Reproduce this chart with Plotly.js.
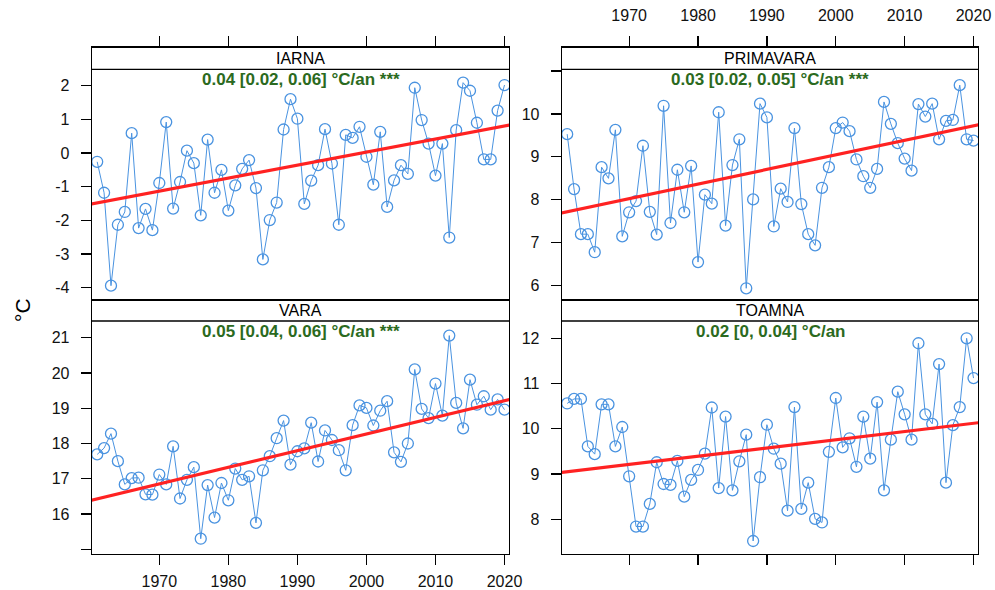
<!DOCTYPE html>
<html>
<head>
<meta charset="utf-8">
<script src="https://cdn.plot.ly/plotly-3.0.1.min.js"></script>
<style>html,body{margin:0;padding:0;background:#fff;}#chart{width:995px;height:590px;}</style>
</head>
<body>
<div id="chart"></div>
<script>
var years = [1961,1962,1963,1964,1965,1966,1967,1968,1969,1970,1971,1972,1973,1974,1975,1976,1977,1978,1979,1980,
1981,1982,1983,1984,1985,1986,1987,1988,1989,1990,1991,1992,1993,1994,1995,1996,1997,1998,1999,2000,
2001,2002,2003,2004,2005,2006,2007,2008,2009,2010,2011,2012,2013,2014,2015,2016,2017,2018,2019,2020];

var iarna = [-0.26,-1.18,-3.94,-2.13,-1.75,0.59,-2.23,-1.66,-2.29,-0.89,0.92,-1.65,-0.86,0.07,-0.30,-1.85,0.40,-1.18,-0.50,-1.71,
-0.96,-0.47,-0.21,-1.04,-3.16,-1.99,-1.47,0.70,1.60,1.02,-1.51,-0.82,-0.36,0.71,-0.31,-2.13,0.54,0.45,0.78,-0.11,
-0.94,0.63,-1.60,-0.81,-0.36,-0.62,1.94,0.98,0.28,-0.67,0.28,-2.51,0.68,2.09,1.85,0.90,-0.19,-0.19,1.26,2.02];

var primavara = [9.53,8.25,7.20,7.20,6.78,8.76,8.50,9.63,7.15,7.71,7.97,9.26,7.72,7.19,10.19,7.46,8.70,7.71,8.79,6.55,
8.12,7.91,10.04,7.40,8.81,9.41,5.94,8.01,10.24,9.92,7.38,8.26,7.95,9.67,7.90,7.20,6.94,8.28,8.76,9.67,
9.80,9.60,8.94,8.55,8.28,8.72,10.28,9.77,9.32,8.96,8.68,10.23,9.94,10.24,9.41,9.84,9.86,10.67,9.41,9.38];

var vara = [17.69,17.87,18.28,17.50,16.84,17.02,17.03,16.56,16.55,17.12,16.84,17.92,16.44,16.97,17.33,15.30,16.82,15.90,16.88,16.39,
17.29,16.97,17.07,15.75,17.24,17.64,18.15,18.65,17.40,17.78,17.86,18.59,17.49,18.37,18.10,17.81,17.24,18.52,19.08,19.01,
18.51,18.93,19.20,17.75,17.48,18.00,20.10,18.98,18.72,19.70,18.79,21.06,19.15,18.43,19.81,19.10,19.34,18.96,19.25,18.96];

var toamna = [10.56,10.66,10.66,9.61,9.44,10.54,10.54,9.61,10.04,8.95,7.84,7.84,8.34,9.26,8.78,8.76,9.29,8.50,8.87,9.09,
9.45,10.47,8.69,10.27,8.64,9.28,9.87,7.52,8.93,10.09,9.56,9.23,8.19,10.48,8.23,8.81,8.01,7.93,9.49,10.68,
9.59,9.79,9.16,10.27,9.34,10.59,8.64,9.76,10.82,10.32,9.76,11.89,10.32,10.11,11.43,8.81,10.08,10.48,12.00,11.12];

var panelNames = ["IARNA", "PRIMAVARA", "VARA", "TOAMNA"];
var trendLabels = ["0.04 [0.02, 0.06] °C/an ***", "0.03 [0.02, 0.05] °C/an ***", "0.05 [0.04, 0.06] °C/an ***", "0.02 [0, 0.04] °C/an"];
var trendYears = [1960, 2021];
var trendIarna = [-1.52, 0.84];
var trendPrimavara = [7.69, 9.76];
var trendVara = [16.38, 19.26];
var trendToamna = [9.03, 10.14];
var xTicks = [1970, 1980, 1990, 2000, 2010, 2020];
var yTicksIarna = [-4, -3, -2, -1, 0, 1, 2];
var yTicksPrimavara = [6, 7, 8, 9, 10, 11];
var yTextPrimavara = ["6", "7", "8", "9", "10", ""];
var yTicksVara = [15, 16, 17, 18, 19, 20, 21];
var yTextVara = ["", "16", "17", "18", "19", "20", "21"];
var yTicksToamna = [8, 9, 10, 11, 12];

var series = [iarna, primavara, vara, toamna];
var trends = [trendIarna, trendPrimavara, trendVara, trendToamna];

var W = 995, H = 590;
function px2x(p) { return p / W; }
function px2y(p) { return 1 - p / H; }

var BLUE = "#4a93e0";
var RED = "#ff2222";
var GREEN = "#2b6a20";
var FONT = "Liberation Sans, Arial, sans-serif";

var colX = [[px2x(92), px2x(509)], [px2x(562), px2x(978)]];
var rowY = [[px2y(300), px2y(47.7)], [px2y(553.5), px2y(300)]];
var stripBottom = [69.3, 321];
var xRange = [1960.25, 2020.65];
var yRanges = [[-4.365, 3.129], [5.667, 11.543], [14.881, 22.069], [7.244, 12.846]];

var data = [];
for (var i = 0; i < 4; i++) {
  var s = i + 1;
  data.push({
    x: years, y: series[i], xaxis: "x" + s, yaxis: "y" + s,
    type: "scatter", mode: "lines+markers",
    line: {color: BLUE, width: 1},
    marker: {symbol: "circle-open", size: 11, color: BLUE, line: {width: 1.3, color: BLUE}},
    hoverinfo: "x+y", showlegend: false
  });
  data.push({
    x: trendYears, y: trends[i], xaxis: "x" + s, yaxis: "y" + s,
    type: "scatter", mode: "lines",
    line: {color: RED, width: 3.2},
    hoverinfo: "skip", showlegend: false
  });
}

var layout = {
  width: W, height: H,
  margin: {l: 0, r: 0, t: 0, b: 0},
  paper_bgcolor: "#fff", plot_bgcolor: "rgba(0,0,0,0)",
  font: {family: FONT, size: 16, color: "#000"},
  showlegend: false,
  shapes: [], annotations: []
};

var yTickSets = [
  {vals: yTicksIarna, text: yTicksIarna.map(String)},
  {vals: yTicksPrimavara, text: yTextPrimavara},
  {vals: yTicksVara, text: yTextVara},
  {vals: yTicksToamna, text: yTicksToamna.map(String)}
];

for (var i = 0; i < 4; i++) {
  var s = i + 1;
  var col = i % 2, row = Math.floor(i / 2);
  var xa = {
    domain: colX[col], anchor: "y" + s, range: xRange,
    side: row === 0 ? "top" : "bottom",
    tickmode: "array", tickvals: xTicks, ticktext: xTicks.map(String),
    ticks: "outside", ticklen: 10, tickwidth: 1.2, tickcolor: "#000",
    showticklabels: (i === 1 || i === 2),
    ticklabelstandoff: row === 0 ? 9 : 3,
    tickfont: {family: FONT, size: 16, color: "#111"},
    showline: true, mirror: true, linecolor: "#000", linewidth: 1.3,
    showgrid: false, zeroline: false, fixedrange: true
  };
  var ya = {
    domain: rowY[row], anchor: "x" + s, range: yRanges[i],
    tickmode: "array", tickvals: yTickSets[i].vals, ticktext: yTickSets[i].text,
    ticks: "outside", ticklen: 10, tickwidth: 1.2, tickcolor: "#000",
    ticklabelstandoff: 8,
    tickfont: {family: FONT, size: 16, color: "#111"},
    showline: true, mirror: true, linecolor: "#000", linewidth: 1.3,
    showgrid: false, zeroline: false, fixedrange: true
  };
  layout["xaxis" + s] = xa;
  layout["yaxis" + s] = ya;

  layout.shapes.push({
    type: "line", xref: "paper", yref: "paper",
    x0: colX[col][0], x1: colX[col][1],
    y0: px2y(stripBottom[row]), y1: px2y(stripBottom[row]),
    line: {color: "#000", width: 1.3}
  });
  var stripTop = row === 0 ? 47.7 : 300;
  layout.annotations.push({
    xref: "paper", yref: "paper",
    x: (colX[col][0] + colX[col][1]) / 2,
    y: px2y((stripTop + stripBottom[row]) / 2),
    text: panelNames[i], showarrow: false,
    xanchor: "center", yanchor: "middle",
    font: {family: FONT, size: 16, color: "#000"}
  });
  layout.annotations.push({
    xref: "paper", yref: "paper",
    x: (colX[col][0] + colX[col][1]) / 2,
    y: px2y(stripBottom[row] + 10),
    text: "<b>" + trendLabels[i] + "</b>", showarrow: false,
    xanchor: "center", yanchor: "middle",
    font: {family: FONT, size: 17, color: GREEN}
  });
}

layout.annotations.push({
  xref: "paper", yref: "paper", x: px2x(22), y: px2y(310),
  text: "°C", showarrow: false, textangle: -90,
  xanchor: "center", yanchor: "middle",
  font: {family: FONT, size: 21, color: "#000"}
});

Plotly.newPlot("chart", data, layout, {displayModeBar: false, staticPlot: true});
</script>
</body>
</html>
